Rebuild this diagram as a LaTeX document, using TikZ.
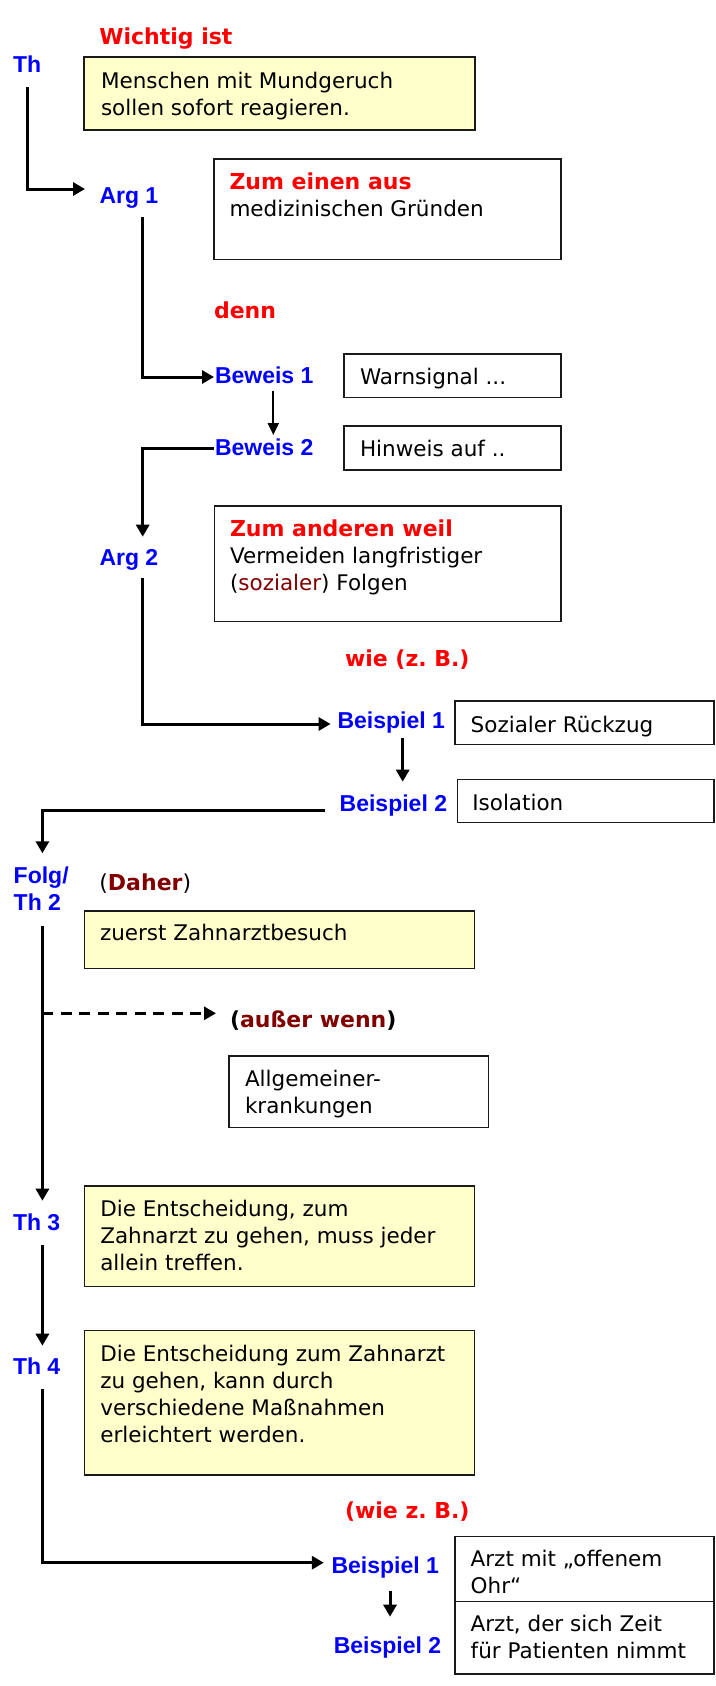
\documentclass[tikz,border=0pt]{standalone}
\usepackage{fontspec}
\setmainfont{DejaVu Sans}
\newfontfamily\labelfont{Liberation Sans}
\usetikzlibrary{arrows.meta}
\frenchspacing

\definecolor{lblblue}{HTML}{0000FF}
\definecolor{kwred}{HTML}{FF0000}
\definecolor{deepred}{HTML}{800000}
\definecolor{notefill}{HTML}{FFFFCC}
\definecolor{frame}{HTML}{1A1A1A}

% text block of a box: width, height, left padding, first baseline, lines
\newcommand\cellbox[5]{\parbox[c][#2][t]{#1}{\fontsize{21.5pt}{27pt}\selectfont
  \raggedright\leftskip=#3\relax\rule{0pt}{#4}#5}}
\newcommand\kwline[1]{{\color{kwred}\bfseries\fontsize{22pt}{27pt}\selectfont #1}}

\begin{document}
\begin{tikzpicture}[x=1pt,y=-1pt,
  lab/.style={font=\labelfont\bfseries\fontsize{23pt}{27.4pt}\selectfont,
    text=lblblue, inner sep=0pt, outer sep=0pt, anchor=base west},
  kw/.style={font=\bfseries\fontsize{22pt}{27pt}\selectfont,
    text=kwred, inner sep=0pt, outer sep=0pt, anchor=base west},
  plainbox/.style={draw=frame, line width=1.5pt, inner sep=0pt, outer sep=0pt,
    anchor=north west},
  notebox/.style={plainbox, fill=notefill},
  conn/.style={line width=3pt, -{Triangle[length=12pt,width=13pt]}},
  thinconn/.style={line width=2pt, -{Triangle[length=12pt,width=11pt]}},
  dashconn/.style={conn, dash pattern=on 11pt off 7.5pt},
]
\path[fill=white, use as bounding box] (0,0) rectangle (715,1686);

% ---- thesis ----
\node[kw] (wichtig) at (99.3,44.3) {Wichtig ist};
\node[lab] (th) at (13,72.7) {Th};
\node[notebox] (thesis) at (84,57)
  {\cellbox{391pt}{73pt}{17pt}{31.3pt}{Menschen mit Mundgeruch\\sollen sofort reagieren.}};

% ---- argument 1 ----
\node[lab] (arg1) at (99.5,203.3) {Arg 1};
\node[plainbox] (arg1box) at (214,159)
  {\cellbox{347pt}{100.5pt}{15.5pt}{30.3pt}{\kwline{Zum einen aus}\\medizinischen Gründen}};
\node[kw] (denn) at (214,318.3) {denn};
\node[lab] (bew1) at (215,383.3) {Beweis 1};
\node[plainbox] (bew1box) at (344,354)
  {\cellbox{217pt}{43.3pt}{16pt}{30pt}{Warnsignal ...}};
\node[lab] (bew2) at (215,455) {Beweis 2};
\node[plainbox] (bew2box) at (344,426)
  {\cellbox{217pt}{44pt}{16pt}{30.7pt}{Hinweis auf ..}};

% ---- argument 2 ----
\node[lab] (arg2) at (99.5,565) {Arg 2};
\node[plainbox] (arg2box) at (214.3,506)
  {\cellbox{346.7pt}{115.7pt}{15.7pt}{30pt}{\kwline{Zum anderen weil}\\Vermeiden langfristiger\\({\color{deepred}sozialer}) Folgen}};
\node[kw] (wie) at (345,666) {wie (z. B.)};
\node[lab] (bsp1) at (337.5,728.3) {Beispiel 1};
\node[plainbox] (bsp1box) at (455,701)
  {\cellbox{259pt}{43.3pt}{15.7pt}{31.2pt}{Sozialer Rückzug}};
\node[lab] (bsp2) at (339.7,811.7) {Beispiel 2};
\node[plainbox] (bsp2box) at (457.3,779.3)
  {\cellbox{256.7pt}{43.4pt}{15pt}{30.7pt}{Isolation}};

% ---- consequence ----
\node[lab] (folg) at (13.7,883.3) {\vtop{\hbox{Folg/}\hbox{Th 2}}};
\node[kw, text=black] (daher) at (99.4,890)
  {{\mdseries(}{\color{deepred}Daher}{\mdseries)}};
\node[notebox] (folgbox) at (84.4,911)
  {\cellbox{389.9pt}{57.3pt}{15.6pt}{29.3pt}{zuerst Zahnarztbesuch}};
\node[kw, text=black] (ausser) at (230,1027.3) {({\color{deepred}außer wenn})};
\node[plainbox] (ausserbox) at (229,1056)
  {\cellbox{259.4pt}{71.7pt}{16pt}{30pt}{Allgemeiner-\\krankungen}};

% ---- theses 3 and 4 ----
\node[lab] (th3) at (13,1230.7) {Th 3};
\node[notebox] (th3box) at (84.4,1186)
  {\cellbox{389.9pt}{100.7pt}{15.9pt}{30pt}{Die Entscheidung, zum\\Zahnarzt zu gehen, muss jeder\\allein treffen.}};
\node[lab] (th4) at (13,1374.3) {Th 4};
\node[notebox] (th4box) at (84.4,1330.7)
  {\cellbox{389.9pt}{144.3pt}{15.9pt}{31pt}{Die Entscheidung zum Zahnarzt\\zu gehen, kann durch\\verschiedene Maßnahmen\\erleichtert werden.}};
\node[kw] (wiezb) at (345,1518.3) {(wie z. B.)};
\node[lab] (bsp3) at (331.5,1573.3) {Beispiel 1};
\node[lab] (bsp4) at (333.8,1653.3) {Beispiel 2};
\node[plainbox] (bsp3box) at (455,1536.7)
  {\cellbox{259pt}{65pt}{15.7pt}{30pt}{Arzt mit „offenem\\Ohr“}};
\node[plainbox] (bsp4box) at (bsp3box.south west)
  {\cellbox{259pt}{72.3pt}{15.7pt}{30pt}{Arzt, der sich Zeit\\für Patienten nimmt}};

% ---- connectors ----
\draw[conn] ([xshift=14pt,yshift=-14.3pt]th.base west)
  |- ([xshift=-14.5pt,yshift=14.3pt]arg1.base west);
\draw[conn] ([xshift=43.2pt,yshift=-13.7pt]arg1.base west)
  |- ([xshift=-1pt,yshift=6.3pt]bew1.base west);
\draw[thinconn] ([xshift=58.3pt,yshift=-7.4pt]bew1.base west)
  -- ([xshift=58.3pt,yshift=20pt]bew2.base west);
\draw[conn] ([xshift=-1pt,yshift=6.7pt]bew2.base west)
  -| ([xshift=43.2pt,yshift=28.3pt]arg2.base west);
\draw[conn] ([xshift=43.2pt,yshift=-13pt]arg2.base west)
  |- ([xshift=-6.9pt,yshift=4.3pt]bsp1.base west);
\draw[conn] ([xshift=65.2pt,yshift=-10pt]bsp1.base west)
  -- ([xshift=63pt,yshift=30pt]bsp2.base west);
\draw[conn] ([xshift=-15pt,yshift=1.7pt]bsp2.base west)
  -| ([xshift=28.7pt,yshift=30pt]folg.base west);
\draw[conn] ([xshift=28.7pt,yshift=-42.7pt]folg.base west)
  -- ([xshift=29.4pt,yshift=30pt]th3.base west);
\coordinate (split) at (42.4,1013.3);
\draw[dashconn] (split) -- ([xshift=-14pt,yshift=14pt]ausser.base west);
\draw[conn] ([xshift=29.4pt,yshift=-14.3pt]th3.base west)
  -- ([xshift=29.4pt,yshift=28.6pt]th4.base west);
\draw[conn] ([xshift=29.4pt,yshift=-15pt]th4.base west)
  |- ([xshift=-7.7pt,yshift=10.6pt]bsp3.base west);
\draw[conn] ([xshift=58.5pt,yshift=-17.4pt]bsp3.base west)
  -- ([xshift=56.2pt,yshift=36.6pt]bsp4.base west);
\end{tikzpicture}
\end{document}
